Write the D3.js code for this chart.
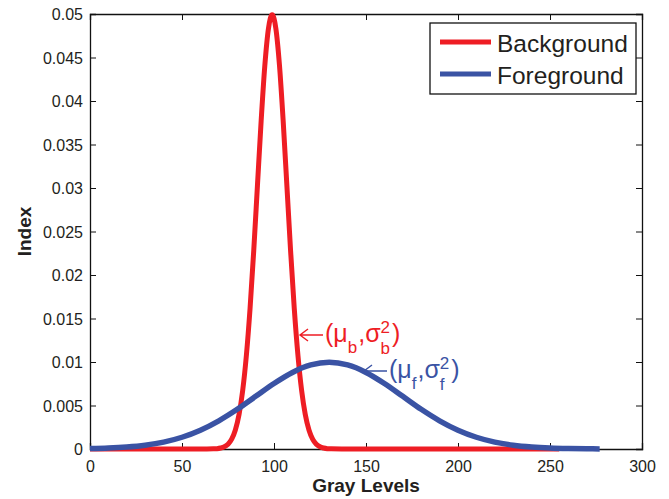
<!DOCTYPE html>
<html><head><meta charset="utf-8">
<script src="https://cdn.jsdelivr.net/npm/d3@7"></script>
<style>body{margin:0;background:#fff}svg{display:block;font-family:"Liberation Sans",Arial,sans-serif}</style>
</head><body><svg id="c" width="669" height="499"></svg>
<script>
// Data
const bgX = [0, 40, 60, 67, 69, 71, 73, 75, 77, 79, 81, 83, 85, 87, 89, 91, 93, 95, 97, 99, 101, 103, 105, 107, 109, 111, 113, 115, 117, 119, 121, 123, 125, 127, 129, 131, 150, 200, 255];
const bgY = [0, 0, 0, 0.00002, 0.00004, 0.00011, 0.00025, 0.00055, 0.00114, 0.00219, 0.00397, 0.00675, 0.01079, 0.01620, 0.02284, 0.03027, 0.03766, 0.04404, 0.04836, 0.0499, 0.04836, 0.04404, 0.03766, 0.03027, 0.02284, 0.01620, 0.01079, 0.00675, 0.00397, 0.00219, 0.00114, 0.00055, 0.00025, 0.00011, 0.00004, 0.00002, 0, 0, 0];
const fgX = [0, 10, 20, 30, 40, 50, 60, 70, 80, 90, 100, 110, 120, 130, 140, 150, 160, 170, 180, 190, 200, 210, 220, 230, 240, 250, 260, 270, 277];
const fgY = [0.00005, 0.00011, 0.00023, 0.00044, 0.00079, 0.00135, 0.00216, 0.00324, 0.00456, 0.00605, 0.00753, 0.00880, 0.00966, 0.00997, 0.00966, 0.00880, 0.00753, 0.00605, 0.00456, 0.00324, 0.00216, 0.00135, 0.00079, 0.00044, 0.00023, 0.00011, 0.00005, 0.00002, 0.00001];
const xTicks = [0, 50, 100, 150, 200, 250, 300];
const xTickLabels = ["0", "50", "100", "150", "200", "250", "300"];
const yTicks = [0, 0.005, 0.01, 0.015, 0.02, 0.025, 0.03, 0.035, 0.04, 0.045, 0.05];
const yTickLabels = ["0", "0.005", "0.01", "0.015", "0.02", "0.025", "0.03", "0.035", "0.04", "0.045", "0.05"];
const seriesNames = ["Background", "Foreground"];
const annSubs = ["b", "f"];
const colors = ["#ee1d24", "#3a53a4"];

const svg = d3.select("#c");
const L = 90, R = 642, T = 14, B = 449;
const x = d3.scaleLinear().domain([0, 300]).range([L, R]);
const y = d3.scaleLinear().domain([0, 0.05]).range([B, T]);

const g = svg.append("g");
svg.append("clipPath").attr("id", "clip").append("rect").attr("x", L).attr("y", T - 3).attr("width", R - L).attr("height", B - T + 6);

// tick marks inside on all sides
const tk = 6;
const axB = g.append("g").attr("transform", `translate(0,${B})`).call(d3.axisBottom(x).tickValues(xTicks).tickSize(-tk).tickFormat((d, i) => xTickLabels[i]));
const axT = g.append("g").attr("transform", `translate(0,${T})`).call(d3.axisTop(x).tickValues(xTicks).tickSize(-tk).tickFormat(""));
const axL = g.append("g").attr("transform", `translate(${L},0)`).call(d3.axisLeft(y).tickValues(yTicks).tickSize(-tk).tickFormat((d, i) => yTickLabels[i]));
const axR = g.append("g").attr("transform", `translate(${R},0)`).call(d3.axisRight(y).tickValues(yTicks).tickSize(-tk).tickFormat(""));
[axB, axT, axL, axR].forEach(a => {
  a.select(".domain").attr("stroke", "#111").attr("stroke-width", 1.3);
  a.selectAll(".tick line").attr("stroke", "#111").attr("stroke-width", 1);
  a.selectAll("text").attr("font-size", 16).attr("fill", "#231f20").attr("font-family", "Liberation Sans, Arial, sans-serif");
});
axB.selectAll(".tick text").attr("y", 12).attr("dy", "0.71em");
axL.selectAll(".tick text").attr("x", -7).attr("dy", "0.35em");

const line = d3.line().x(d => x(d[0])).y(d => y(d[1])).curve(d3.curveMonotoneX);
const bgData = bgX.map((v, i) => [v, bgY[i]]);
const fgData = fgX.map((v, i) => [v, fgY[i]]);
svg.append("path").datum(bgData).attr("d", line).attr("fill", "none").attr("stroke", colors[0]).attr("stroke-width", 5).attr("stroke-linejoin", "round").attr("clip-path", "url(#clip)");
svg.append("path").datum(fgData).attr("d", line).attr("fill", "none").attr("stroke", colors[1]).attr("stroke-width", 5.5).attr("stroke-linejoin", "round").attr("clip-path", "url(#clip)");

// axis labels
svg.append("text").attr("x", (L + R) / 2).attr("y", 492).attr("text-anchor", "middle").attr("font-size", 19).attr("font-weight", "bold").attr("fill", "#231f20").text("Gray Levels");
svg.append("text").attr("transform", `translate(31,${(T + B) / 2}) rotate(-90)`).attr("text-anchor", "middle").attr("font-size", 19).attr("font-weight", "bold").attr("fill", "#231f20").text("Index");

// legend
const lg = svg.append("g");
lg.append("rect").attr("x", 430).attr("y", 23).attr("width", 206).attr("height", 71).attr("fill", "#fff").attr("stroke", "#111").attr("stroke-width", 1.3);
seriesNames.forEach((n, i) => {
  const yy = 42 + i * 32;
  lg.append("line").attr("x1", 440).attr("x2", 491).attr("y1", yy).attr("y2", yy).attr("stroke", colors[i]).attr("stroke-width", 5);
  lg.append("text").attr("x", 497).attr("y", yy + 10).attr("font-size", 24.5).attr("fill", "#231f20").text(n);
});

// annotations: arrow + (mu_s, sigma_s^2), each piece a separate text
function annot(ax, ay, tx, color, sub) {
  const a = svg.append("g");
  a.append("path").attr("d", `M${ax},${ay}H${tx - 2}M${ax + 8},${ay - 6}L${ax},${ay}L${ax + 8},${ay + 6}`).attr("fill", "none").attr("stroke", color).attr("stroke-width", 1.4);
  const base = ay + 7;
  let cx = tx;
  function piece(str, size, yy, adv = true, gap = 0) {
    const t = a.append("text").attr("x", cx).attr("y", yy).attr("font-size", size).attr("fill", color).text(str);
    const w = t.node().getComputedTextLength();
    if (adv) cx += w + gap;
    return w;
  }
  piece("(μ", 25, base);
  piece(sub, 17, base + 11, true, 1);
  piece(",σ", 25, base);
  const w2 = piece("2", 17, base - 9, false);
  const wb = piece(sub, 17, base + 12, false);
  cx += Math.max(w2, wb) + 2;
  piece(")", 25, base);
}
annot(300, 335, 325, colors[0], annSubs[0]);
annot(364, 371, 389, colors[1], annSubs[1]);
</script></body></html>
